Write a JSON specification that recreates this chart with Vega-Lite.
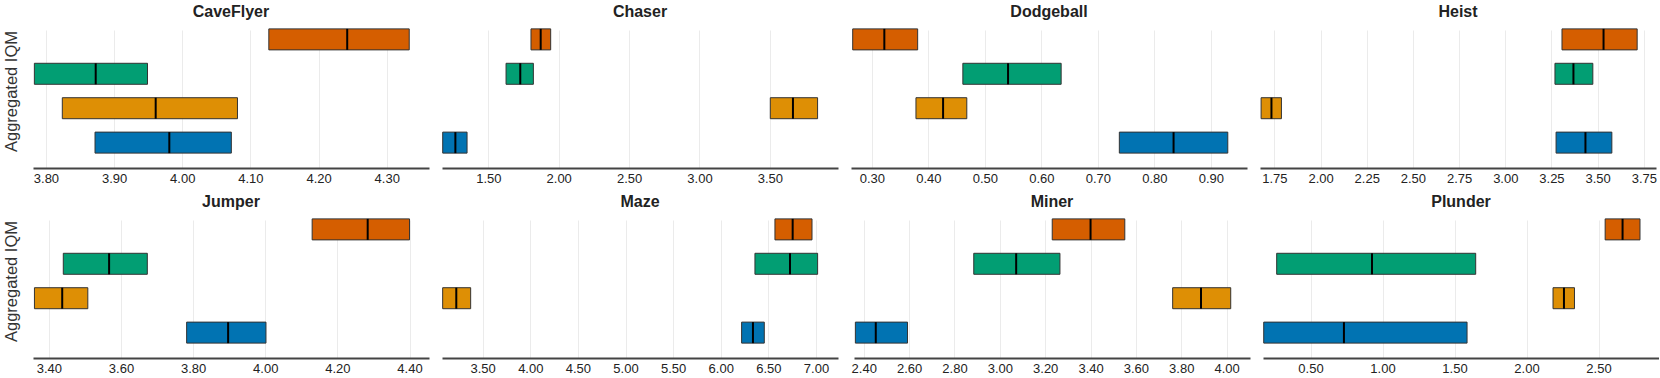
{
  "$schema": "https://vega.github.io/schema/vega-lite/v6.json",
  "padding": {"left": 2, "top": 4, "right": 0, "bottom": 0},
  "background": "white",
  "data": {"values": [
    {"game": "CaveFlyer", "algo": "Method 1", "low": 3.872, "median": 3.981, "high": 4.072},
    {"game": "CaveFlyer", "algo": "Method 2", "low": 3.824, "median": 3.961, "high": 4.081},
    {"game": "CaveFlyer", "algo": "Method 3", "low": 3.783, "median": 3.873, "high": 3.949},
    {"game": "CaveFlyer", "algo": "Method 4", "low": 4.127, "median": 4.242, "high": 4.333},
    {"game": "Chaser", "algo": "Method 1", "low": 1.176, "median": 1.266, "high": 1.349},
    {"game": "Chaser", "algo": "Method 2", "low": 3.503, "median": 3.664, "high": 3.839},
    {"game": "Chaser", "algo": "Method 3", "low": 1.626, "median": 1.727, "high": 1.82},
    {"game": "Chaser", "algo": "Method 4", "low": 1.803, "median": 1.872, "high": 1.943},
    {"game": "Dodgeball", "algo": "Method 1", "low": 0.738, "median": 0.834, "high": 0.93},
    {"game": "Dodgeball", "algo": "Method 2", "low": 0.378, "median": 0.426, "high": 0.468},
    {"game": "Dodgeball", "algo": "Method 3", "low": 0.461, "median": 0.541, "high": 0.635},
    {"game": "Dodgeball", "algo": "Method 4", "low": 0.266, "median": 0.322, "high": 0.381},
    {"game": "Heist", "algo": "Method 1", "low": 3.275, "median": 3.434, "high": 3.577},
    {"game": "Heist", "algo": "Method 2", "low": 1.678, "median": 1.734, "high": 1.788},
    {"game": "Heist", "algo": "Method 3", "low": 3.269, "median": 3.369, "high": 3.474},
    {"game": "Heist", "algo": "Method 4", "low": 3.307, "median": 3.532, "high": 3.714},
    {"game": "Jumper", "algo": "Method 1", "low": 3.782, "median": 3.897, "high": 4.002},
    {"game": "Jumper", "algo": "Method 2", "low": 3.36, "median": 3.437, "high": 3.508},
    {"game": "Jumper", "algo": "Method 3", "low": 3.44, "median": 3.567, "high": 3.673},
    {"game": "Jumper", "algo": "Method 4", "low": 4.13, "median": 4.284, "high": 4.4},
    {"game": "Maze", "algo": "Method 1", "low": 6.219, "median": 6.338, "high": 6.457},
    {"game": "Maze", "algo": "Method 2", "low": 3.08, "median": 3.223, "high": 3.374},
    {"game": "Maze", "algo": "Method 3", "low": 6.359, "median": 6.727, "high": 7.017},
    {"game": "Maze", "algo": "Method 4", "low": 6.569, "median": 6.755, "high": 6.958},
    {"game": "Miner", "algo": "Method 1", "low": 2.363, "median": 2.453, "high": 2.593},
    {"game": "Miner", "algo": "Method 2", "low": 3.762, "median": 3.887, "high": 4.018},
    {"game": "Miner", "algo": "Method 3", "low": 2.885, "median": 3.072, "high": 3.265},
    {"game": "Miner", "algo": "Method 4", "low": 3.231, "median": 3.4, "high": 3.551},
    {"game": "Plunder", "algo": "Method 1", "low": 0.175, "median": 0.732, "high": 1.587},
    {"game": "Plunder", "algo": "Method 2", "low": 2.184, "median": 2.26, "high": 2.333},
    {"game": "Plunder", "algo": "Method 3", "low": 0.265, "median": 0.927, "high": 1.647},
    {"game": "Plunder", "algo": "Method 4", "low": 2.546, "median": 2.667, "high": 2.788}
  ]},
  "spacing": 9,
  "vconcat": [
    {
      "spacing": 13,
      "hconcat": [
        {
          "title": "CaveFlyer", "width": 396, "height": 138,
          "transform": [{"filter": "datum.game === 'CaveFlyer'"}],
          "encoding": {"y": {"field": "algo", "type": "nominal", "sort": ["Method 4", "Method 3", "Method 2", "Method 1"], "scale": {"paddingInner": 0.39, "paddingOuter": 0.2}, "axis": {"title": "Aggregated IQM", "labels": false, "ticks": false, "domain": false, "grid": false, "titleFontSize": 16.5, "titleFontWeight": "normal", "titleColor": "#333", "titleFont": "Liberation Sans", "titlePadding": 14}}},
          "layer": [
            {"mark": {"type": "bar", "stroke": "#333", "strokeWidth": 1}, "encoding": {"x": {"field": "low", "type": "quantitative", "scale": {"domain": [3.781, 4.362], "nice": false, "zero": false}, "axis": {"values": [3.8, 3.9, 4.0, 4.1, 4.2, 4.3], "format": ".2f"}}, "x2": {"field": "high"}, "color": {"field": "algo", "type": "nominal", "scale": {"domain": ["Method 1", "Method 2", "Method 3", "Method 4"], "range": ["#0173B2", "#DE8F05", "#029E73", "#D55E00"]}, "legend": null}}},
            {"mark": {"type": "tick", "orient": "vertical", "thickness": 2, "size": 21, "color": "black", "opacity": 1}, "encoding": {"x": {"field": "median", "type": "quantitative"}}}
          ]
        },
        {
          "title": "Chaser", "width": 396, "height": 138,
          "transform": [{"filter": "datum.game === 'Chaser'"}],
          "encoding": {"y": {"field": "algo", "type": "nominal", "sort": ["Method 4", "Method 3", "Method 2", "Method 1"], "scale": {"paddingInner": 0.39, "paddingOuter": 0.2}, "axis": null}},
          "layer": [
            {"mark": {"type": "bar", "stroke": "#333", "strokeWidth": 1}, "encoding": {"x": {"field": "low", "type": "quantitative", "scale": {"domain": [1.171, 3.984], "nice": false, "zero": false}, "axis": {"values": [1.5, 2.0, 2.5, 3.0, 3.5], "format": ".2f"}}, "x2": {"field": "high"}, "color": {"field": "algo", "type": "nominal", "scale": {"domain": ["Method 1", "Method 2", "Method 3", "Method 4"], "range": ["#0173B2", "#DE8F05", "#029E73", "#D55E00"]}, "legend": null}}},
            {"mark": {"type": "tick", "orient": "vertical", "thickness": 2, "size": 21, "color": "black", "opacity": 1}, "encoding": {"x": {"field": "median", "type": "quantitative"}}}
          ]
        },
        {
          "title": "Dodgeball", "width": 396, "height": 138,
          "transform": [{"filter": "datum.game === 'Dodgeball'"}],
          "encoding": {"y": {"field": "algo", "type": "nominal", "sort": ["Method 4", "Method 3", "Method 2", "Method 1"], "scale": {"paddingInner": 0.39, "paddingOuter": 0.2}, "axis": null}},
          "layer": [
            {"mark": {"type": "bar", "stroke": "#333", "strokeWidth": 1}, "encoding": {"x": {"field": "low", "type": "quantitative", "scale": {"domain": [0.263, 0.964], "nice": false, "zero": false}, "axis": {"values": [0.3, 0.4, 0.5, 0.6, 0.7, 0.8, 0.9], "format": ".2f"}}, "x2": {"field": "high"}, "color": {"field": "algo", "type": "nominal", "scale": {"domain": ["Method 1", "Method 2", "Method 3", "Method 4"], "range": ["#0173B2", "#DE8F05", "#029E73", "#D55E00"]}, "legend": null}}},
            {"mark": {"type": "tick", "orient": "vertical", "thickness": 2, "size": 21, "color": "black", "opacity": 1}, "encoding": {"x": {"field": "median", "type": "quantitative"}}}
          ]
        },
        {
          "title": "Heist", "width": 396, "height": 138,
          "transform": [{"filter": "datum.game === 'Heist'"}],
          "encoding": {"y": {"field": "algo", "type": "nominal", "sort": ["Method 4", "Method 3", "Method 2", "Method 1"], "scale": {"paddingInner": 0.39, "paddingOuter": 0.2}, "axis": null}},
          "layer": [
            {"mark": {"type": "bar", "stroke": "#333", "strokeWidth": 1}, "encoding": {"x": {"field": "low", "type": "quantitative", "scale": {"domain": [1.672, 3.816], "nice": false, "zero": false}, "axis": {"values": [1.75, 2.0, 2.25, 2.5, 2.75, 3.0, 3.25, 3.5, 3.75], "format": ".2f"}}, "x2": {"field": "high"}, "color": {"field": "algo", "type": "nominal", "scale": {"domain": ["Method 1", "Method 2", "Method 3", "Method 4"], "range": ["#0173B2", "#DE8F05", "#029E73", "#D55E00"]}, "legend": null}}},
            {"mark": {"type": "tick", "orient": "vertical", "thickness": 2, "size": 21, "color": "black", "opacity": 1}, "encoding": {"x": {"field": "median", "type": "quantitative"}}}
          ]
        }
      ]
    },
    {
      "spacing": 13,
      "hconcat": [
        {
          "title": "Jumper", "width": 396, "height": 138,
          "transform": [{"filter": "datum.game === 'Jumper'"}],
          "encoding": {"y": {"field": "algo", "type": "nominal", "sort": ["Method 4", "Method 3", "Method 2", "Method 1"], "scale": {"paddingInner": 0.39, "paddingOuter": 0.2}, "axis": {"title": "Aggregated IQM", "labels": false, "ticks": false, "domain": false, "grid": false, "titleFontSize": 16.5, "titleFontWeight": "normal", "titleColor": "#333", "titleFont": "Liberation Sans", "titlePadding": 14}}},
          "layer": [
            {"mark": {"type": "bar", "stroke": "#333", "strokeWidth": 1}, "encoding": {"x": {"field": "low", "type": "quantitative", "scale": {"domain": [3.356, 4.454], "nice": false, "zero": false}, "axis": {"values": [3.4, 3.6, 3.8, 4.0, 4.2, 4.4], "format": ".2f"}}, "x2": {"field": "high"}, "color": {"field": "algo", "type": "nominal", "scale": {"domain": ["Method 1", "Method 2", "Method 3", "Method 4"], "range": ["#0173B2", "#DE8F05", "#029E73", "#D55E00"]}, "legend": null}}},
            {"mark": {"type": "tick", "orient": "vertical", "thickness": 2, "size": 21, "color": "black", "opacity": 1}, "encoding": {"x": {"field": "median", "type": "quantitative"}}}
          ]
        },
        {
          "title": "Maze", "width": 396, "height": 138,
          "transform": [{"filter": "datum.game === 'Maze'"}],
          "encoding": {"y": {"field": "algo", "type": "nominal", "sort": ["Method 4", "Method 3", "Method 2", "Method 1"], "scale": {"paddingInner": 0.39, "paddingOuter": 0.2}, "axis": null}},
          "layer": [
            {"mark": {"type": "bar", "stroke": "#333", "strokeWidth": 1}, "encoding": {"x": {"field": "low", "type": "quantitative", "scale": {"domain": [3.073, 7.231], "nice": false, "zero": false}, "axis": {"values": [3.5, 4.0, 4.5, 5.0, 5.5, 6.0, 6.5, 7.0], "format": ".2f"}}, "x2": {"field": "high"}, "color": {"field": "algo", "type": "nominal", "scale": {"domain": ["Method 1", "Method 2", "Method 3", "Method 4"], "range": ["#0173B2", "#DE8F05", "#029E73", "#D55E00"]}, "legend": null}}},
            {"mark": {"type": "tick", "orient": "vertical", "thickness": 2, "size": 21, "color": "black", "opacity": 1}, "encoding": {"x": {"field": "median", "type": "quantitative"}}}
          ]
        },
        {
          "title": "Miner", "width": 396, "height": 138,
          "transform": [{"filter": "datum.game === 'Miner'"}],
          "encoding": {"y": {"field": "algo", "type": "nominal", "sort": ["Method 4", "Method 3", "Method 2", "Method 1"], "scale": {"paddingInner": 0.39, "paddingOuter": 0.2}, "axis": null}},
          "layer": [
            {"mark": {"type": "bar", "stroke": "#333", "strokeWidth": 1}, "encoding": {"x": {"field": "low", "type": "quantitative", "scale": {"domain": [2.357, 4.103], "nice": false, "zero": false}, "axis": {"values": [2.4, 2.6, 2.8, 3.0, 3.2, 3.4, 3.6, 3.8, 4.0], "format": ".2f"}}, "x2": {"field": "high"}, "color": {"field": "algo", "type": "nominal", "scale": {"domain": ["Method 1", "Method 2", "Method 3", "Method 4"], "range": ["#0173B2", "#DE8F05", "#029E73", "#D55E00"]}, "legend": null}}},
            {"mark": {"type": "tick", "orient": "vertical", "thickness": 2, "size": 21, "color": "black", "opacity": 1}, "encoding": {"x": {"field": "median", "type": "quantitative"}}}
          ]
        },
        {
          "title": "Plunder", "width": 396, "height": 138,
          "transform": [{"filter": "datum.game === 'Plunder'"}],
          "encoding": {"y": {"field": "algo", "type": "nominal", "sort": ["Method 4", "Method 3", "Method 2", "Method 1"], "scale": {"paddingInner": 0.39, "paddingOuter": 0.2}, "axis": null}},
          "layer": [
            {"mark": {"type": "bar", "stroke": "#333", "strokeWidth": 1}, "encoding": {"x": {"field": "low", "type": "quantitative", "scale": {"domain": [0.17, 2.92], "nice": false, "zero": false}, "axis": {"values": [0.5, 1.0, 1.5, 2.0, 2.5], "format": ".2f"}}, "x2": {"field": "high"}, "color": {"field": "algo", "type": "nominal", "scale": {"domain": ["Method 1", "Method 2", "Method 3", "Method 4"], "range": ["#0173B2", "#DE8F05", "#029E73", "#D55E00"]}, "legend": null}}},
            {"mark": {"type": "tick", "orient": "vertical", "thickness": 2, "size": 21, "color": "black", "opacity": 1}, "encoding": {"x": {"field": "median", "type": "quantitative"}}}
          ]
        }
      ]
    }
  ],
  "resolve": {"scale": {"x": "independent", "y": "independent"}},
  "config": {
    "view": {"stroke": null},
    "font": "Liberation Sans",
    "title": {"fontSize": 16, "fontWeight": "bold", "color": "#222", "offset": 2, "font": "Liberation Sans", "anchor": "middle"},
    "axisX": {"title": null, "domainColor": "#444", "domainWidth": 2, "ticks": false, "labelFontSize": 13, "labelColor": "#222", "labelFont": "Liberation Sans", "gridColor": "#ebebeb", "gridWidth": 1, "offset": 8, "labelPadding": 4, "labelFlush": false, "labelOverlap": false}
  }
}
